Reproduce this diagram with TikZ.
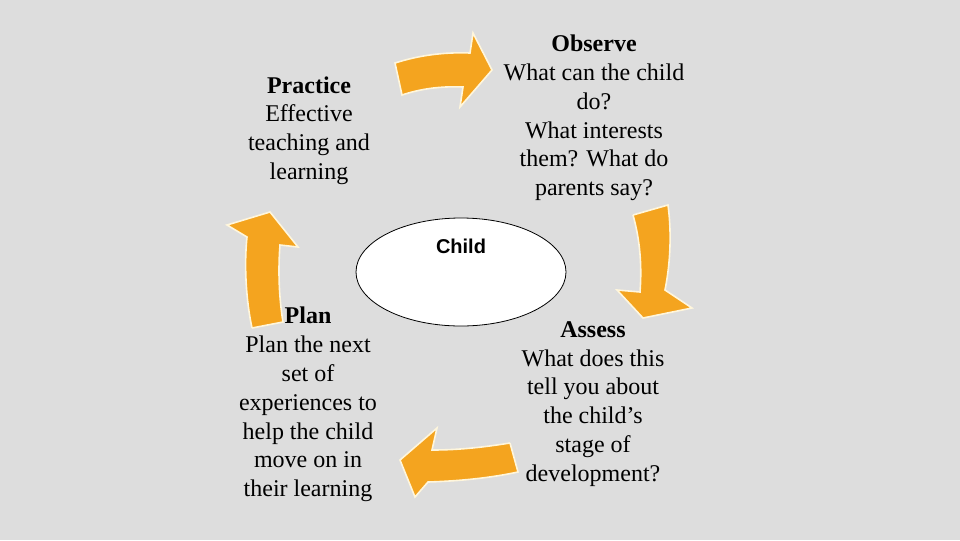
\documentclass[tikz,border=0pt]{standalone}
\usepackage{fontspec}
\setmainfont{Liberation Serif}
\newfontfamily\childfont{Liberation Sans}
\usepackage{xcolor}
\usetikzlibrary{shapes.geometric}
\definecolor{bgray}{HTML}{DDDDDD}
\definecolor{arrorange}{HTML}{F4A41F}
\definecolor{arrrim}{HTML}{FFF6DC}

\begin{document}
\begin{tikzpicture}[x=0.75pt,y=-0.75pt,
    stage/.style={align=center,font=\fontsize{18}{21.6}\selectfont},
    blockarrow/.style={fill=arrorange,draw=arrrim,line width=1.2pt,line join=miter}]
    \useasboundingbox (0,0) rectangle (960,540);
    \fill[bgray] (0,0) rectangle (960,540);

    \draw (461,272) node (node0) [ellipse,draw,fill=white,line width=0.6pt,inner sep=0pt,minimum width=157.5pt,minimum height=81pt] {};
    \draw (461,246) node (node5) [font=\childfont\bfseries\fontsize{15}{18}\selectfont] {Child};
    \draw (594,118) node (node1) [stage] {\textbf{Observe}\\What can the child\\do?\\What interests\\them? What do\\parents say?};
    \draw (593,404) node (node2) [stage] {\textbf{Assess}\\What does this\\tell you about\\the child’s\\stage of\\development?};
    \draw (308,404.5) node (node3) [stage] {\textbf{Plan}\\Plan the next\\set of\\experiences to\\help the child\\move on in\\their learning};
    \draw (309,130.5) node (node4) [stage] {\textbf{Practice}\\Effective\\teaching and\\learning};

    % practice -> observe
    \draw[blockarrow] (395,63) .. controls (420,55) and (445,52) .. (470,53) -- (473,33) -- (492,70)
        -- (460,107) -- (463,87) .. controls (440,86) and (420,89) .. (402,95) -- cycle;
    % observe -> assess
    \draw[blockarrow] (633,215) -- (668,205) .. controls (672,235) and (670,265) .. (665,290)
        -- (692,308) -- (643,318) -- (617,290) -- (640,292) .. controls (642,265) and (640,240) .. (633,215);
    % assess -> plan
    \draw[blockarrow] (510,443) -- (518,472) .. controls (490,478) and (460,481) .. (428,482)
        -- (415,497) -- (400,460) -- (437,428) -- (432,450) .. controls (460,450) and (485,447) .. (510,443);
    % plan -> practice
    \draw[blockarrow] (252,328) -- (283,322) .. controls (279,298) and (278,270) .. (280,245)
        -- (298,247) -- (270,212) -- (227,225) -- (247,237) .. controls (244,265) and (246,300) .. (252,328);
\end{tikzpicture}
\end{document}
